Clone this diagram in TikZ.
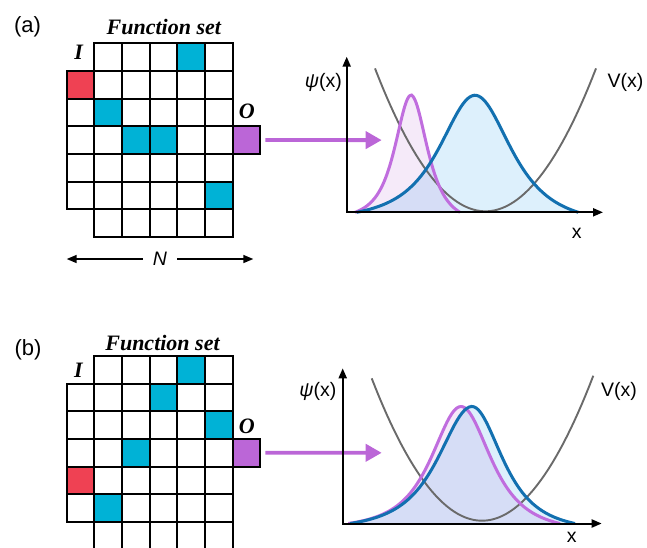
\documentclass[tikz,border=0pt]{standalone}
\usepackage{fontspec}
\setmainfont{Liberation Sans}
\newfontfamily\tnr{Liberation Serif}
\usetikzlibrary{arrows.meta}
\definecolor{fsCell}{HTML}{00B2D6}
\definecolor{fsIn}{HTML}{EF4153}
\definecolor{fsOut}{HTML}{BB66D7}
\definecolor{psiBlue}{HTML}{1270B0}
\definecolor{psiPurple}{HTML}{C06DDE}
\definecolor{psiBlueFill}{HTML}{DDF0FC}
\definecolor{psiPurpleFill}{HTML}{F5EAF9}
\definecolor{psiMixFill}{HTML}{D6DDF6}
\definecolor{potGray}{HTML}{6A6A6A}
\tikzset{
  declare function={
    bb(\u)=exp(-1.5*ln(1+0.587*\u*\u));
    bump(\u,\e)=(bb(\u)-bb(\e))/(1-bb(\e));
  },
  cell/.style={draw, line width=2pt, minimum size=27.65pt, inner sep=0pt},
  hit/.style={fill=fsCell, minimum size=27.65pt, inner sep=0pt},
  inbox/.style={hit, fill=fsIn},
  outbox/.style={cell, fill=fsOut},
  panel/.style={font=\fontsize{22}{22}\selectfont, anchor=base, inner sep=0pt},
  settitle/.style={font=\tnr\bfseries\itshape\fontsize{22}{22}\selectfont, anchor=base, inner sep=0pt},
  port/.style={settitle},
  axlabel/.style={font=\fontsize{19.5}{19.5}\selectfont, inner sep=0pt},
  axis/.style={line width=2pt, {Triangle[length=10pt,width=8pt]}-{Triangle[length=10pt,width=8pt]}},
  feed/.style={line width=3.8pt, fsOut, -{Triangle[length=16pt,width=17pt]}, shorten <=4pt},
  span/.style={line width=1.5pt, -{Triangle[length=10pt,width=8pt]}},
  pot/.style={line width=1.9pt, potGray},
  psiA/.style={line width=3pt, psiBlue},
  psiB/.style={line width=3pt, psiPurple}
}
% grid of the function set: 6 columns, first column only rows 1-5
\newcommand{\fsgrid}[1]{%
  \foreach \r in {0,...,6} \foreach \c in {1,...,5} \node[cell] (#1-\r-\c) at (\c+.5,\r+.5) {};
  \foreach \r in {1,...,5} \node[cell] (#1-\r-0) at (.5,\r+.5) {};
}
% wave packet: peak, left/right half width, start, end
\newcommand{\wave}[5]{plot[domain=#4:#1,samples=50] (\x,{117*bump((\x-#1)/#2,(#4-#1)/#2)}) -- plot[domain=#1:#5,samples=50] (\x,{117*bump((\x-#1)/#3,(#5-#1)/#3)})}

\begin{document}
\begin{tikzpicture}[x=1pt, y=-1pt]
  \useasboundingbox (0,0) rectangle (647,547);
  \clip (0,0) rectangle (647,547);

  % (a)
  \node[panel] (a-tag) at (27.5,32.3) {(a)};
  \node[settitle] (a-title) at (163.8,34) {Function set};
  \begin{scope}[shift={(66.7,43.3)}, x=27.65pt, y=-27.65pt]
    \foreach \r/\c [count=\k] in {0/4,2/1,3/2,3/3,5/5} \node[hit] (a-hit\k) at (\c+.5,\r+.5) {};
    \node[inbox] (a-in) at (.5,1.5) {};
    \fsgrid{a}
    \node[outbox] (a-out) at (6.5,3.5) {};
  \end{scope}
  \node[port] (a-I) at (78.7,59.3) {I};
  \node[port] (a-O) at (246.7,118.3) {O};
  \node[axlabel, inner xsep=10pt] (a-N) at (160,259) {\itshape N};
  \coordinate (a-nl) at (66.7,259);
  \coordinate (a-nr) at (253.3,259);
  \draw[span] (a-N) -- (a-nl);
  \draw[span] (a-N) -- (a-nr);
  \coordinate (a-tip) at (381.7,140.1);
  \draw[feed] (a-out) -- (a-tip);

  \coordinate (a-org) at (346.7,212.3);
  \coordinate (a-ytip) at (346.7,56.7);
  \coordinate (a-xtip) at (603,212.3);
  \begin{scope}[shift={(a-org)}, yscale=-1]
    \fill[psiPurpleFill] \wave{64.3}{19}{19.5}{8.3}{113.3} -- cycle;
    \fill[psiBlueFill] \wave{128.3}{42}{43}{10}{231.6} -- cycle;
    \begin{scope}
      \clip \wave{64.3}{19}{19.5}{8.3}{113.3} -- cycle;
      \fill[psiMixFill] \wave{128.3}{42}{43}{10}{231.6} -- cycle;
    \end{scope}
    \draw[pot] plot[domain=28.3:249.3, samples=60] (\x,{1+0.0117*(\x-138.8)*(\x-138.8)});
    \draw[psiB] \wave{64.3}{19}{19.5}{8.3}{113.3};
    \draw[psiA] \wave{128.3}{42}{43}{10}{231.6};
  \end{scope}
  \draw[axis] (a-ytip) -- (a-org) -- (a-xtip);
  \node[axlabel, anchor=base east] (a-psi) at (342,87.7) {{\itshape ψ}(x)};
  \node[axlabel, anchor=base west] (a-V) at (607.5,87.7) {V(x)};
  \node[axlabel, anchor=base] (a-x) at (576.7,238.3) {x};

  % (b)
  \node[panel] (b-tag) at (28,355.5) {(b)};
  \node[settitle] (b-title) at (162.5,350) {Function set};
  \begin{scope}[shift={(66.7,356)}, x=27.65pt, y=-27.65pt]
    \foreach \r/\c [count=\k] in {0/4,1/3,2/5,3/2,5/1} \node[hit] (b-hit\k) at (\c+.5,\r+.5) {};
    \node[inbox] (b-in) at (.5,4.5) {};
    \fsgrid{b}
    \node[outbox] (b-out) at (6.5,3.5) {};
  \end{scope}
  \node[port] (b-I) at (78.3,377.3) {I};
  \node[port] (b-O) at (246.7,433.3) {O};
  \coordinate (b-tip) at (381.7,452.8);
  \draw[feed] (b-out) -- (b-tip);

  \coordinate (b-org) at (342.7,523.5);
  \coordinate (b-ytip) at (342.7,368.3);
  \coordinate (b-xtip) at (601.7,523.5);
  \begin{scope}[shift={(b-org)}, yscale=-1]
    \fill[psiPurpleFill] \wave{118.3}{35}{35.5}{5.6}{217.3} -- cycle;
    \fill[psiBlueFill] \wave{129.3}{40}{36}{7.3}{232.3} -- cycle;
    \begin{scope}
      \clip \wave{118.3}{35}{35.5}{5.6}{217.3} -- cycle;
      \fill[psiMixFill] \wave{129.3}{40}{36}{7.3}{232.3} -- cycle;
    \end{scope}
    \draw[pot] plot[domain=29:250.6, samples=60] (\x,{2.8+0.0117*(\x-139.3)*(\x-139.3)});
    \draw[psiB] \wave{118.3}{35}{35.5}{5.6}{217.3};
    \draw[psiA] \wave{129.3}{40}{36}{7.3}{232.3};
  \end{scope}
  \draw[axis] (b-ytip) -- (b-org) -- (b-xtip);
  \node[axlabel, anchor=base east] (b-psi) at (336.5,396) {{\itshape ψ}(x)};
  \node[axlabel, anchor=base west] (b-V) at (601,396) {V(x)};
  \node[axlabel, anchor=base] (b-x) at (571.7,542.5) {x};
\end{tikzpicture}
\end{document}
